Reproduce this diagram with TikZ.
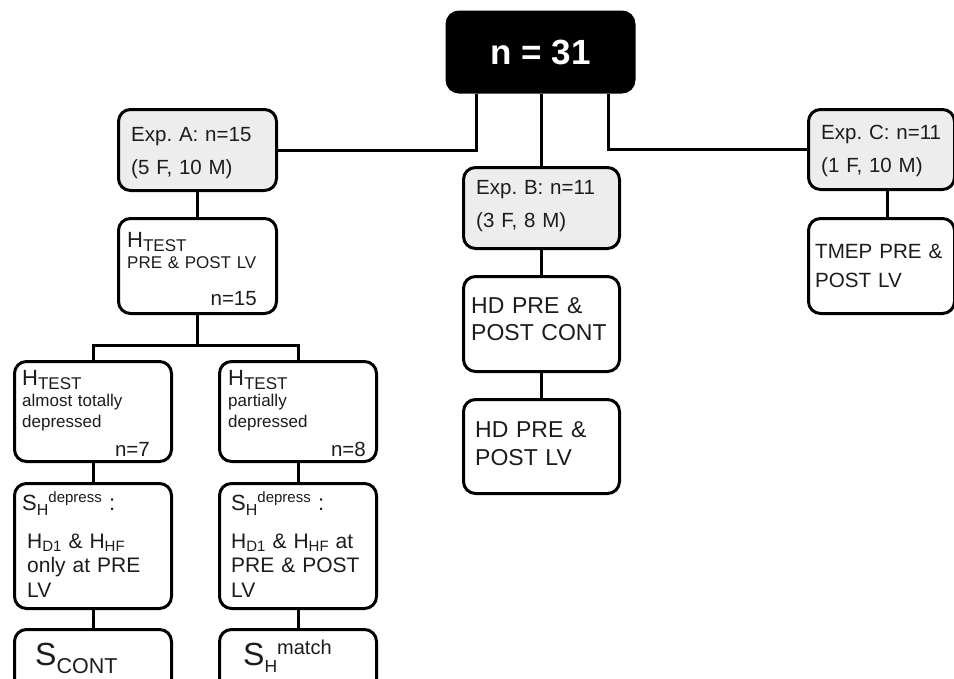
\documentclass[tikz,border=0pt]{standalone}
\usepackage{fontspec}
\setmainfont{Liberation Sans}
\usetikzlibrary{calc}
\definecolor{boxgrey}{HTML}{EDEDED}
\definecolor{ink}{HTML}{1C1C1C}
\newcommand{\fsz}[2]{\fontsize{#1}{#2}\selectfont}
\newcommand{\lowtxt}[3]{\raisebox{-#2pt}{\fsz{#1}{#1}#3}}
\newcommand{\uptxt}[3]{\raisebox{#2pt}{\fsz{#1}{#1}#3}}
\frenchspacing
\begin{document}
\begin{tikzpicture}[x=1pt, y=-1pt,
    box/.style={draw=black, line width=3pt, rounded corners=12pt, anchor=north west, inner sep=0pt, fill=white},
    greybox/.style={box, fill=boxgrey},
    txt/.style={anchor=base west, inner sep=0pt, align=left, text width=170pt, text=ink},
    num/.style={anchor=base east, inner sep=0pt, text=ink, font=\fsz{20.5}{20.5}},
    link/.style={draw=black, line width=3pt}]
    \clip (0,0) rectangle (954,678);
    % Boxes
    \node[box, fill=black, text=white, font=\bfseries\fsz{35}{35}, anchor=center, minimum width=187, minimum height=80] (all) at (540.5,52) {n = 31};
    \node[greybox, minimum width=158, minimum height=81] (expA) at (117,108) {};
    \node[box, minimum width=158, minimum height=95] (htest) at (117,217) {};
    \node[box, minimum width=157, minimum height=100] (hleft) at (13,360) {};
    \node[box, minimum width=157, minimum height=100] (hright) at (218,360) {};
    \node[box, minimum width=157, minimum height=125] (sleft) at (13,482) {};
    \node[box, minimum width=157, minimum height=125] (sright) at (218,482) {};
    \node[box, minimum width=157, minimum height=100] (scont) at (13,628) {};
    \node[box, minimum width=157, minimum height=100] (smatch) at (218,628) {};
    \node[greybox, minimum width=156, minimum height=81] (expB) at (462,166) {};
    \node[box, minimum width=156, minimum height=95] (hdcont) at (462,275) {};
    \node[box, minimum width=156, minimum height=94] (hdlv) at (462,398) {};
    \node[greybox, minimum width=146, minimum height=80] (expC) at (807,108) {};
    \node[box, minimum width=146, minimum height=95] (tmep) at (807,217) {};
    % Texts
    \node[txt, font=\fsz{20.5}{33}] (expA-t) at ([shift={(14,33)}]expA.north west) {Exp. A: n=15\\(5 F, 10 M)};
    \node[txt, font=\fsz{20.5}{33}] (expB-t) at ([shift={(14,28.5)}]expB.north west) {Exp. B: n=11\\(3 F, 8 M)};
    \node[txt, font=\fsz{20.5}{33}] (expC-t) at ([shift={(14,31)}]expC.north west) {Exp. C: n=11\\(1 F, 10 M)};
    \node[txt, font=\fsz{17}{21}] (htest-t) at ([shift={(10,30)}]htest.north west) {{\fsz{22}{22}H}\lowtxt{17}{4.5}{TEST}\\PRE \& POST LV};
    \node[num] (htest-n) at ([shift={(-21,-10)}]htest.south east) {n=15};
    \node[txt, font=\fsz{17}{21}] (hleft-t) at ([shift={(9,25)}]hleft.north west) {{\fsz{22}{22}H}\lowtxt{17}{4.5}{TEST}\\almost totally\\depressed};
    \node[num] (hleft-n) at ([shift={(-23,-7)}]hleft.south east) {n=7};
    \node[txt, font=\fsz{17}{21}] (hright-t) at ([shift={(10,25)}]hright.north west) {{\fsz{22}{22}H}\lowtxt{17}{4.5}{TEST}\\partially\\depressed};
    \node[num] (hright-n) at ([shift={(-12,-7)}]hright.south east) {n=8};
    \node[txt, font=\fsz{22}{22}] (sleft-h) at ([shift={(9,28)}]sleft.north west) {S\lowtxt{16}{5}{H}\uptxt{15}{8}{depress} :};
    \node[txt, font=\fsz{21}{24.5}] (sleft-t) at ([shift={(14,66)}]sleft.north west) {H\lowtxt{15}{3.5}{D1} \& H\lowtxt{15}{3.5}{HF}\\only at PRE\\LV};
    \node[txt, font=\fsz{22}{22}] (sright-h) at ([shift={(13,28)}]sright.north west) {S\lowtxt{16}{5}{H}\uptxt{15}{8}{depress} :};
    \node[txt, font=\fsz{21}{24.5}] (sright-t) at ([shift={(13,66)}]sright.north west) {H\lowtxt{15}{3.5}{D1} \& H\lowtxt{15}{3.5}{HF} at\\PRE \& POST\\LV};
    \node[txt, font=\fsz{32}{32}] (scont-t) at ([shift={(22,37)}]scont.north west) {S\lowtxt{21.5}{8}{CONT}};
    \node[txt, font=\fsz{32}{32}] (smatch-t) at ([shift={(25,37)}]smatch.north west) {S\lowtxt{17.5}{7}{H}\uptxt{20}{11}{match}};
    \node[txt, font=\fsz{23}{27}] (hdcont-t) at ([shift={(9,38)}]hdcont.north west) {HD PRE \&\\POST CONT};
    \node[txt, font=\fsz{23}{28}] (hdlv-t) at ([shift={(13,39)}]hdlv.north west) {HD PRE \&\\POST LV};
    \node[txt, font=\fsz{20.6}{29}] (tmep-t) at ([shift={(8,41)}]tmep.north west) {TMEP PRE \&\\POST LV};
    % Lines
    \draw[link] ([xshift=31]all.south west) |- (expA);
    \draw[link] (all.south -| expB.north) -- (expB.north);
    \draw[link] ([xshift=-27]all.south east) |- (expC);
    \draw[link] (expA) -- (htest);
    \draw[link] (htest.south) -- ++(0,30) coordinate (split);
    \draw[link] (hleft.north) |- (split) -| (hright.north);
    \draw[link] (hleft) -- (sleft);
    \draw[link] (hright) -- (sright);
    \draw[link] (sleft) -- (scont);
    \draw[link] (sright) -- (smatch);
    \draw[link] (expB) -- (hdcont);
    \draw[link] (hdcont) -- (hdlv);
    \coordinate (cdrop) at ([xshift=6]expC.south);
    \draw[link] (cdrop) -- (cdrop |- tmep.north);
\end{tikzpicture}
\end{document}
